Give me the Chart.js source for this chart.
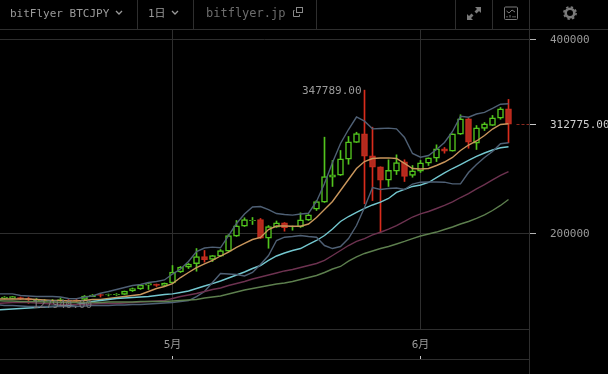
<!DOCTYPE html>
<html>
<head>
<meta charset="utf-8">
<script src="https://cdn.jsdelivr.net/npm/chart.js@4"></script>
<style>
html, body { margin: 0; padding: 0; background: #000; overflow: hidden; }
#wrap { position: relative; width: 608px; height: 374px; overflow: hidden; }
canvas { position: absolute; left: 0; top: 0; }
.txt { position: absolute; font: 11px "DejaVu Sans Mono", "Noto Sans CJK JP", monospace; color: #9a9a9a; white-space: nowrap; line-height: 14px; }
.ln { position: absolute; background: #2e2e2e; }
svg { position: absolute; }
</style>
</head>
<body>
<div id="wrap">
    <canvas id="chart" width="608" height="374"></canvas>
    <div class="ln" style="left:0;top:29px;width:608px;height:1px"></div>
    <div class="ln" style="left:0;top:359px;width:529px;height:1px"></div>
    <div class="ln" style="left:529px;top:0;width:1px;height:374px"></div>
    <div class="ln" style="left:137px;top:0;width:1px;height:29px"></div>
    <div class="ln" style="left:193px;top:0;width:1px;height:29px"></div>
    <div class="ln" style="left:316px;top:0;width:1px;height:29px"></div>
    <div class="ln" style="left:455px;top:0;width:1px;height:29px"></div>
    <div class="ln" style="left:492px;top:0;width:1px;height:29px"></div>

    <div class="txt" style="left:10px;top:7px">bitFlyer BTCJPY</div>
    <svg style="left:115px;top:10px" width="8" height="6"><path d="M1 1 L4 4 L7 1" fill="none" stroke="#9a9a9a" stroke-width="1.3"/></svg>
    <div class="txt" style="left:148px;top:7px">1日</div>
    <svg style="left:171px;top:10px" width="8" height="6"><path d="M1 1 L4 4 L7 1" fill="none" stroke="#9a9a9a" stroke-width="1.3"/></svg>
    <div class="txt" style="left:206px;top:6px;font-size:12px;color:#6c6c6c">bitflyer.jp</div>
    <svg style="left:292px;top:6px" width="12" height="12" fill="none" stroke="#8a8a8a"><rect x="4.5" y="1.5" width="6" height="5"/><path d="M2.5 4.5 H1.5 V10.5 H7.5 V8.5"/></svg>

    <svg style="left:466px;top:6px" width="16" height="15" fill="#7a7a7a"><path d="M9 1 H15 V7 L13 5 L10.5 7.5 L8.5 5.5 L11 3 Z"/><path d="M1 14 V8 L3 10 L5.5 7.5 L7.5 9.5 L5 12 L7 14 Z"/></svg>
    <svg style="left:503px;top:6px" width="16" height="15" fill="none" stroke="#7a7a7a"><rect x="1.5" y="1" width="13" height="12.5" rx="1"/><path d="M3.5 5 L6 7 L9 4 L12 6"/><path d="M4 11.5 V10 M7 11.5 V9 M10 11.5 V10 M12 11.5 V10" stroke-width="1"/></svg>
    <svg style="left:563px;top:6px" width="14" height="14"><circle cx="7" cy="7" r="4.3" fill="none" stroke="#7a7a7a" stroke-width="2.6"/><circle cx="7" cy="7" r="6.1" fill="none" stroke="#7a7a7a" stroke-width="1.6" stroke-dasharray="2.4 2.4"/></svg>
</div>

<script>
// day offsets from 1 May (5月 = 0, 6月 = 31)
const days = [-22,-21,-20,-19,-18,-17,-16,-15,-14,-13,-12,-11,-10,-9,-8,-7,-6,-5,-4,-3,-2,-1,
    0,1,2,3,4,5,6,7,8,9,10,11,12,13,14,15,16,17,18,19,20,21,22,23,24,25,26,27,28,29,30,
    31,32,33,34,35,36,37,38,39,40,41,42]
const monthTicks = [0, 31]
const monthLabels = ['5月', '6月']
const priceTicks = [200000, 400000]

// candles start at days[1]
const opens = [133000,133000,134000,133000,130400,129900,129900,130900,131400,131400,
    132000,135000,137100,136600,136900,137100,140700,142800,146700,147900,
    146400,149000,160300,165300,168800,176300,173200,176600,181800,197200,
    207500,213100,214400,195200,206500,211000,206900,206700,213700,225100,
    232300,258000,260100,276600,293800,302800,280100,268800,255000,264200,
    273900,259800,264200,272500,277600,287300,284900,302400,318300,293100,
    308300,311300,318900,328600]
const closes = [134500,135000,132500,131400,131400,130900,130400,132000,130400,130400,
    135600,136600,136100,137100,137400,140700,143300,146900,148400,146400,
    149000,160300,165500,168600,176300,172900,177300,182500,197900,207900,
    214400,213700,195200,207200,211000,205900,207500,214100,219300,233000,
    258800,260500,277000,294500,303100,279700,268400,255000,265000,273200,
    258800,264600,272900,278000,287300,284900,302800,318300,294100,309000,
    313100,319300,328600,312775]
const highs = [135000,135000,134500,134000,133000,132000,132000,133500,132000,132000,
    136100,137100,138100,137600,138100,140700,143800,147400,148400,147900,
    149000,167000,166000,169100,184500,182500,177300,183500,199000,213400,
    216200,216500,215500,208200,212900,211300,207700,221300,219600,234000,
    299300,275300,285600,300000,304400,347789,309600,268800,276000,281100,
    276000,270100,275300,278000,291400,288700,302800,322400,318600,311300,
    314400,321700,329900,338200]
const lows = [132500,133000,132000,127940,129400,128900,128900,129900,129900,129900,
    131400,135000,134500,135600,136100,137100,140200,142300,142300,145400,
    145400,148400,159800,163900,161100,170400,171100,176300,181400,196900,
    207200,209300,194800,184800,206200,202400,203400,206200,213400,223700,
    232000,248500,259800,271400,293800,230600,234000,201300,248500,260800,
    253600,258000,262900,270100,274200,282800,284900,302100,287900,286600,
    306200,311300,317800,293500]

const maShort = [132500,132500,132500,132500,132500,131950,131400,130900,130900,130400,
    130400,130900,131950,131950,133000,134000,135000,136100,137100,140200,
    143300,145400,148400,154600,159800,164900,168600,172200,176800,180900,
    185600,189700,193800,195900,204100,207700,207700,207500,207500,209800,
    216500,224700,233000,244300,255700,267000,274200,277300,277800,278000,
    277300,272200,267000,266500,267000,270100,273700,278400,285600,291200,
    295400,301000,307700,312400,313100]
const maMid = [121100,121600,122200,122700,123200,123700,124200,124700,125200,125800,
    126800,128300,129900,130900,132000,133000,133500,134000,134500,135000,
    136100,137100,137800,139200,140700,143300,145900,148400,151000,154100,
    157200,160300,163900,167000,172200,176800,179900,182500,184500,188700,
    192800,197900,204600,212400,217500,221700,225800,229400,232300,236100,
    242300,245400,248500,250000,252600,257700,262400,267000,271100,275300,
    279400,283000,286100,288400,289400]
const maLong = [127800,128300,128900,128900,128900,128300,127800,127300,126800,126800,
    126800,126800,127300,127800,127800,127800,128300,128900,129400,129900,
    130400,130900,133000,135000,136600,138100,140200,142300,143800,146400,
    148400,150500,153100,155200,157200,159300,161400,162900,164900,167000,
    169100,172200,177300,182500,187600,191800,194800,198500,201300,204600,
    208200,212400,217000,220300,222700,225800,228900,232500,237100,241200,
    245900,250500,255200,259800,263900]
const maLonger = [130900,130400,130400,129900,129900,129900,129400,129400,128900,128900,
    128900,128900,128900,128900,129400,129400,129400,129400,129900,129900,
    129900,129900,130400,130900,131400,132000,133500,134500,135600,137600,
    139700,141800,143300,144800,146400,147900,149000,150500,152600,154600,
    156700,159800,163400,166000,171600,175800,179400,182000,184500,186600,
    189200,191800,194800,197400,199500,201500,204100,206700,209800,212400,
    215500,219100,223700,228900,235100]
const bandUpper = [137800,137800,137800,136100,135600,135000,135000,135000,134500,133000,
    132700,134500,135600,138400,140200,142300,144300,146400,147400,149500,
    150500,152100,158200,163400,171100,181400,185000,185900,185300,197900,
    210300,220100,227300,227800,224700,220600,219600,218900,220100,220900,
    233000,251600,273200,292800,307200,320100,315800,307900,308300,308600,
    307900,299000,282500,278700,280400,286600,293800,305200,320900,319900,
    323200,324800,328900,333300,333700]
const bandLower = [126800,125800,125800,125200,124700,124700,124700,124700,124700,124700,
    124700,125200,125800,125800,125800,126300,126300,126800,126800,127300,
    127800,128300,128900,129900,130900,135000,140200,149500,158800,158200,
    157700,156200,159800,168000,177300,192800,196200,196900,197900,196900,
    196200,187600,184500,186600,194800,208200,226800,247400,245400,246400,
    246900,245400,251000,252900,253100,253100,252900,251200,251200,262900,
    271100,278400,284500,292500,293500]

const green = '#52c41e'
const red = '#d92c1c'
const gridColor = '#2e2e2e'
const textColor = '#9a9a9a'
const monoFont = '"DejaVu Sans Mono", "Noto Sans CJK JP", monospace'

const candleDays = days.slice(1)
const lastClose = closes[closes.length - 1]
const isUp = i => closes[i] >= opens[i]

function lineSet(values, color, width) {
    return {
        type: 'line',
        data: values.map((v, i) => ({x: days[i], y: v})),
        borderColor: color,
        borderWidth: width,
        pointRadius: 0,
        tension: 0,
        order: 0,
    }
}

// labels, tick marks and the last price line
const overlay = {
    id: 'overlay',
    afterDatasetsDraw(chart) {
        const {ctx, scales: {x, y}} = chart
        const hi = Math.max(...highs)
        const lo = Math.min(...lows)
        ctx.save()
        ctx.font = '11px ' + monoFont
        ctx.textBaseline = 'middle'
        ctx.fillStyle = textColor
        ctx.textAlign = 'right'
        ctx.fillText(hi.toFixed(2), x.getPixelForValue(candleDays[highs.indexOf(hi)]) - 3, y.getPixelForValue(hi) + 1)
        ctx.textAlign = 'left'
        ctx.fillStyle = '#7c7c7c'
        ctx.fillText(lo.toFixed(2), x.getPixelForValue(candleDays[lows.indexOf(lo)]) + 4, y.getPixelForValue(lo) + 2)

        const py = Math.round(y.getPixelForValue(lastClose)) + 0.5
        ctx.strokeStyle = '#8c2a20'
        ctx.setLineDash([3, 2])
        ctx.beginPath()
        ctx.moveTo(x.getPixelForValue(candleDays[candleDays.length - 1]) + 8, py)
        ctx.lineTo(x.right, py)
        ctx.stroke()
        ctx.setLineDash([])
        ctx.strokeStyle = '#c8c8c8'
        monthTicks.forEach(d => {
            const px = x.getPixelForValue(d)
            ctx.beginPath()
            ctx.moveTo(px, 356)
            ctx.lineTo(px, 359)
            ctx.stroke()
        })
        ctx.restore()
    }
}

new Chart(document.getElementById('chart'), {
    type: 'bar',
    data: {
        datasets: [
            lineSet(maLonger, '#5d7f4e', 1.4),
            lineSet(maLong, '#6d3250', 1.4),
            lineSet(bandUpper, '#4f6075', 1.4),
            lineSet(bandLower, '#4f6075', 1.4),
            lineSet(maMid, '#74c8d0', 1.4),
            lineSet(maShort, '#c9965c', 1.4),
            {
                // body
                data: candleDays.map((d, i) => ({x: d, y: [opens[i], closes[i]]})),
                barThickness: 6,
                grouped: false,
                borderSkipped: false,
                borderWidth: 1.5,
                borderColor: candleDays.map((d, i) => isUp(i) ? green : '#c22c1e'),
                backgroundColor: candleDays.map((d, i) => isUp(i) ? '#000' : '#b32a1e'),
                order: 1,
            },
            {
                // wick
                data: candleDays.map((d, i) => ({x: d, y: [lows[i], highs[i]]})),
                barThickness: 1,
                grouped: false,
                backgroundColor: candleDays.map((d, i) => isUp(i) ? green : red),
                order: 2,
            },
        ]
    },
    options: {
        responsive: false,
        animation: false,
        events: [],
        layout: {padding: {top: 29, bottom: 15, left: 0, right: 0}},
        plugins: {legend: {display: false}, tooltip: {enabled: false}},
        scales: {
            x: {
                type: 'linear',
                offset: false,
                min: -21.5625,
                max: 44.5625,
                afterBuildTicks: scale => { scale.ticks = monthTicks.map(v => ({value: v})) },
                afterFit: scale => { scale.height = 30 },
                grid: {color: gridColor, drawTicks: false, offset: false},
                border: {color: gridColor},
                ticks: {
                    padding: 10,
                    color: textColor,
                    font: {size: 11, family: monoFont},
                    maxRotation: 0,
                    autoSkip: false,
                    callback: v => monthLabels[monthTicks.indexOf(v)],
                },
            },
            y: {
                position: 'right',
                min: 101546,
                max: 410825,
                afterBuildTicks: scale => { scale.ticks = [...priceTicks, lastClose].map(v => ({value: v})) },
                afterFit: scale => { scale.width = 79 },
                grid: {
                    color: c => c.tick && c.tick.value === lastClose ? 'transparent' : gridColor,
                    tickColor: c => c.tick && c.tick.value === lastClose ? '#c8c8c8' : '#b4b4b4',
                    tickLength: 7,
                },
                border: {display: false},
                ticks: {
                    padding: 14,
                    labelOffset: 1,
                    autoSkip: false,
                    color: c => c.tick.value === lastClose ? '#d0d0d0' : textColor,
                    font: {size: 11, family: monoFont},
                    callback: v => v === lastClose ? v.toFixed(2) : String(v),
                },
            },
        },
    },
    plugins: [overlay],
})
</script>
</body>
</html>
